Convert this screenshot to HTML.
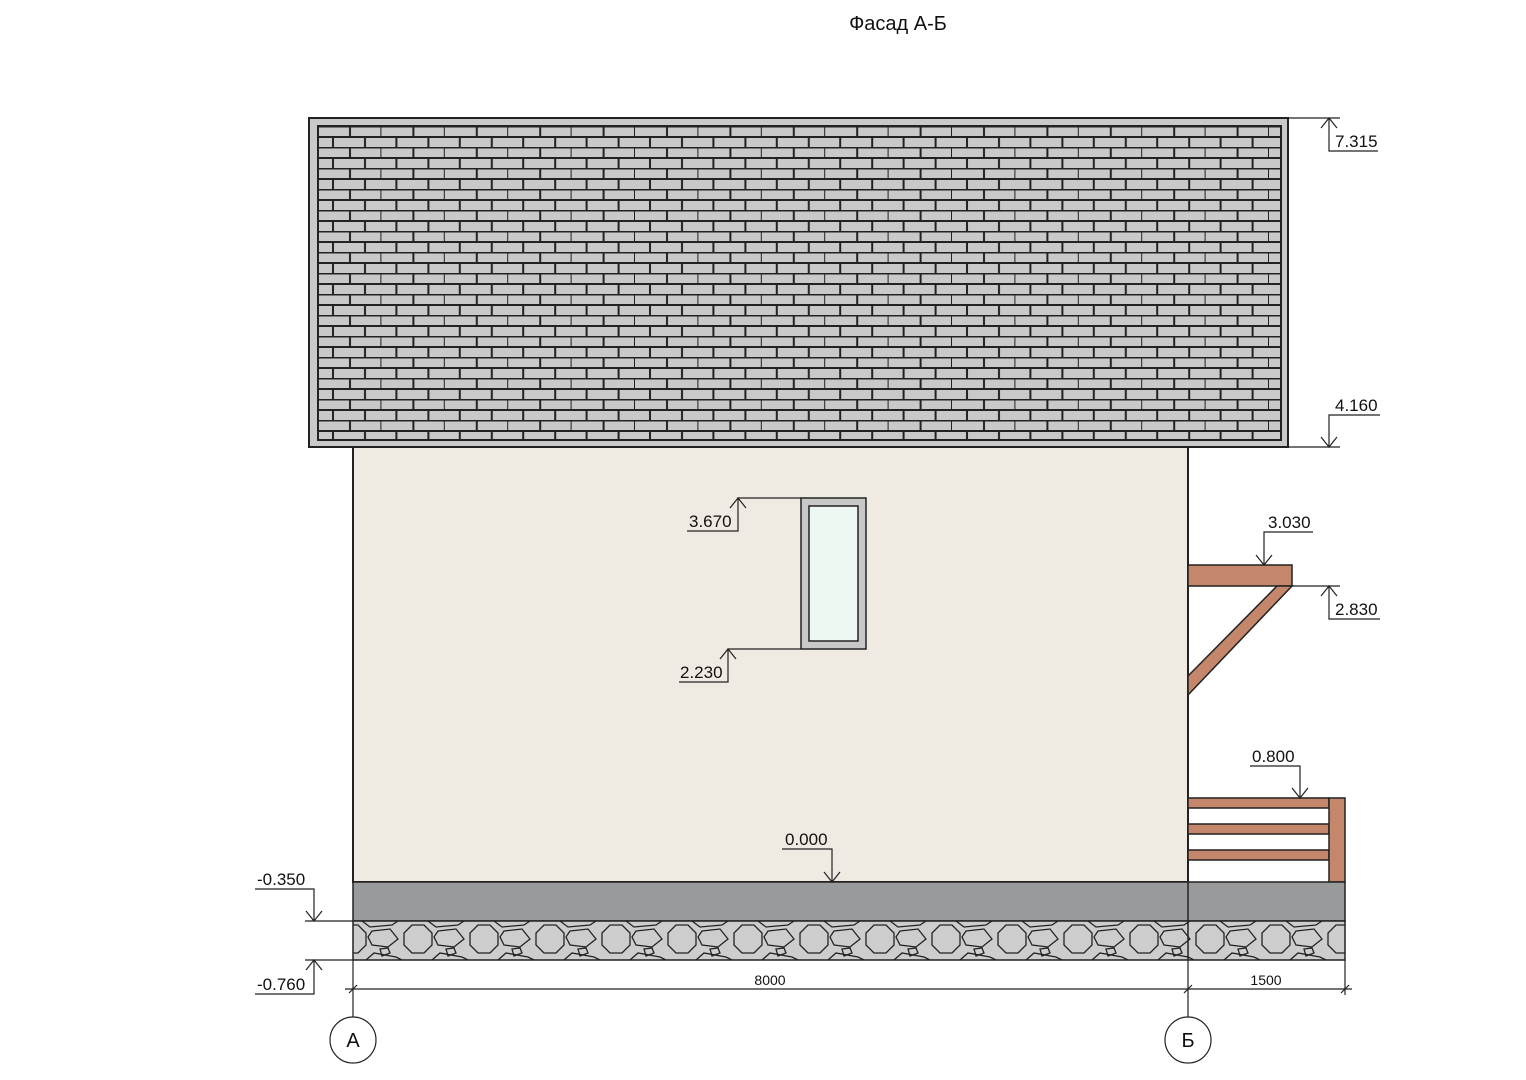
<!DOCTYPE html>
<html><head><meta charset="utf-8"><style>body{margin:0;background:#fff}svg{display:block}text{font-family:"Liberation Sans","DejaVu Sans",sans-serif;fill:#111}</style></head>
<body>
<svg width="1526" height="1080" viewBox="0 0 1526 1080" xmlns="http://www.w3.org/2000/svg">
<defs>
<pattern id="brick" x="318" y="126" width="63.4" height="21" patternUnits="userSpaceOnUse">
<rect width="63.4" height="21" fill="#c9c9c9"/>
<g stroke="#222" stroke-width="2">
<line x1="0" y1="0.5" x2="63.4" y2="0.5"/><line x1="0" y1="11" x2="63.4" y2="11"/>
<line x1="32" y1="0" x2="32" y2="11"/><line x1="63.4" y1="0" x2="63.4" y2="11"/>
<line x1="15" y1="11" x2="15" y2="21"/><line x1="47" y1="11" x2="47" y2="21"/>
</g></pattern>
<pattern id="stone" x="352" y="921" width="66" height="39" patternUnits="userSpaceOnUse">
<rect width="66" height="39" fill="#cdcdcd"/>
<g fill="none" stroke="#222" stroke-width="1.3">
<polygon points="60,4 72,4 80,12 80,24 72,32 60,32 52,24 52,12"/>
<polygon points="-6,4 6,4 14,12 14,24 6,32 -6,32 -14,24 -14,12"/>
<polygon points="20,10 38,8 46,18 36,26 20,24 16,16"/>
<polygon points="28,28 36,27 38,32 30,35"/>
<polyline points="10,0 18,6 40,4 46,0"/>
<polyline points="14,39 22,32 44,36 50,39"/>
</g></pattern>
</defs>
<text x="898" y="30" font-size="20" text-anchor="middle">Фасад А-Б</text>

<rect x="309" y="118" width="979" height="329" fill="#c9c9c9" stroke="#222" stroke-width="2"/>
<rect x="318" y="126" width="963" height="314" fill="url(#brick)" stroke="#222" stroke-width="2"/>

<rect x="353" y="447" width="835" height="435" fill="#efebe2" stroke="#222" stroke-width="2"/>
<rect x="801" y="498" width="65" height="151" fill="#c8c8c8" stroke="#222" stroke-width="1.5"/>
<rect x="809" y="506" width="49" height="135" fill="#eef8f3" stroke="#222" stroke-width="1.5"/>

<rect x="1188" y="565" width="104" height="21" fill="#c4876b" stroke="#222" stroke-width="1.5"/>
<polygon points="1277,586 1292,586 1188,695 1188,676" fill="#c4876b" stroke="#222" stroke-width="1.5"/>

<g fill="#c4876b" stroke="#222" stroke-width="1.5">
<rect x="1188" y="798" width="141" height="10"/><rect x="1188" y="824" width="141" height="10"/><rect x="1188" y="850" width="141" height="10"/>
<rect x="1329" y="798" width="16" height="84"/>
</g>

<rect x="353" y="882" width="992" height="39" fill="#999a9c" stroke="#222" stroke-width="1.5"/>
<rect x="353" y="921" width="992" height="39" fill="url(#stone)" stroke="#222" stroke-width="1.5"/>
<line x1="1188" y1="882" x2="1188" y2="960" stroke="#222" stroke-width="1.5"/>

<g stroke="#222" stroke-width="1.2" fill="none">
<!-- 7.315 -->
<polyline points="1288,118 1340,118"/><polyline points="1329,118 1329,151 1378,151"/><polyline points="1321,128 1329,118 1337,128"/>
<!-- 4.160 -->
<polyline points="1288,447 1340,447"/><polyline points="1329,447 1329,415 1380,415"/><polyline points="1321,437 1329,447 1337,437"/>
<!-- 3.670 -->
<polyline points="801,498 738,498 738,531 687,531"/><polyline points="730,508 738,498 746,508"/>
<!-- 2.230 -->
<polyline points="801,649 728,649 728,682 679,682"/><polyline points="720,659 728,649 736,659"/>
<!-- 3.030 -->
<polyline points="1264,565 1264,532 1313,532"/><polyline points="1256,555 1264,565 1272,555"/>
<!-- 2.830 -->
<polyline points="1292,586 1340,586"/><polyline points="1329,586 1329,619 1380,619"/><polyline points="1321,596 1329,586 1337,596"/>
<!-- 0.800 -->
<polyline points="1300,798 1300,766 1250,766"/><polyline points="1292,788 1300,798 1308,788"/>
<!-- 0.000 -->
<polyline points="832,882 832,849 782,849"/><polyline points="824,872 832,882 840,872"/>
<!-- -0.350 -->
<polyline points="305,921 353,921"/><polyline points="314,921 314,889 255,889"/><polyline points="306,911 314,921 322,911"/>
<!-- -0.760 -->
<polyline points="305,960 353,960"/><polyline points="314,960 314,994 255,994"/><polyline points="306,970 314,960 322,970"/>
<!-- dims -->
<line x1="345" y1="989" x2="1352" y2="989"/>
<line x1="353" y1="960" x2="353" y2="1017"/><line x1="1188" y1="960" x2="1188" y2="1017"/><line x1="1345" y1="960" x2="1345" y2="995"/>
<line x1="349" y1="993" x2="357" y2="985"/><line x1="1184" y1="993" x2="1192" y2="985"/><line x1="1341" y1="993" x2="1349" y2="985"/>
<circle cx="353" cy="1040" r="23"/><circle cx="1188" cy="1040" r="23"/>
</g>
<g font-size="17">
<text x="1335" y="147">7.315</text><text x="1335" y="411">4.160</text>
<text x="689" y="527">3.670</text><text x="680" y="678">2.230</text>
<text x="1268" y="528">3.030</text><text x="1335" y="615">2.830</text>
<text x="1252" y="762">0.800</text><text x="785" y="845">0.000</text>
<text x="257" y="885">-0.350</text><text x="257" y="990">-0.760</text>
</g>
<text x="770" y="985" font-size="14" text-anchor="middle">8000</text>
<text x="1266" y="985" font-size="14" text-anchor="middle">1500</text>
<text x="353" y="1047" font-size="20" text-anchor="middle">А</text>
<text x="1188" y="1047" font-size="20" text-anchor="middle">Б</text>
</svg>
</body></html>
